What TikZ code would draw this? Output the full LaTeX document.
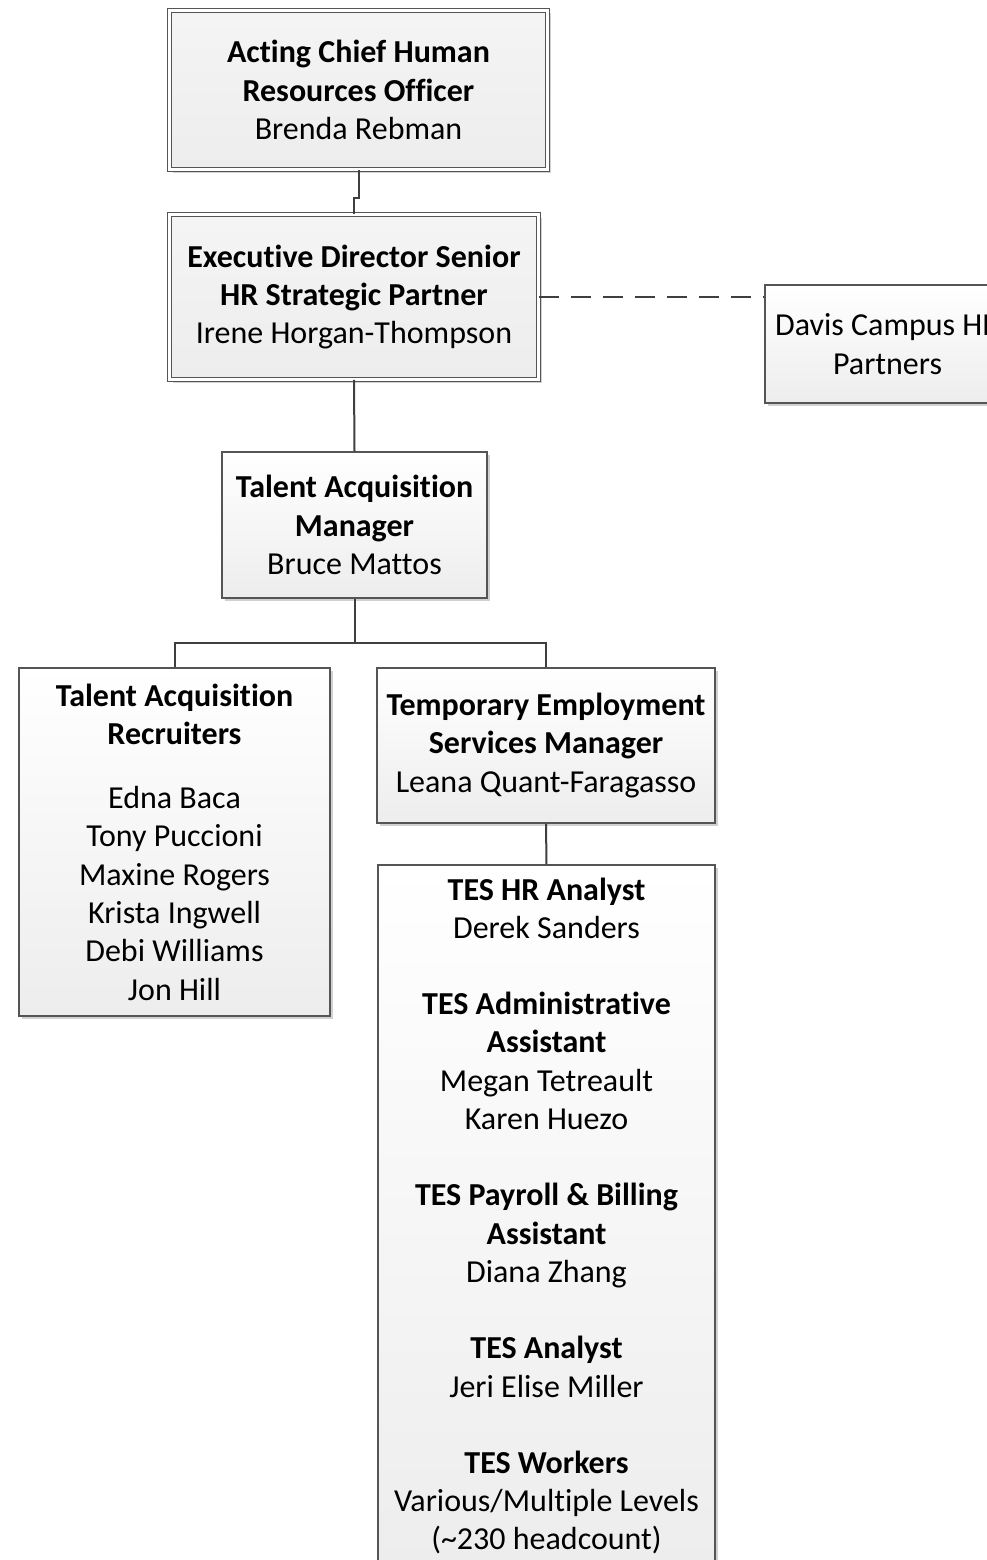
\documentclass[tikz,border=0pt]{standalone}
\usepackage{fontspec}
\setmainfont{Carlito}[Ligatures=NoCommon]
\usetikzlibrary{shadows}
\definecolor{edge}{HTML}{555555}
\definecolor{conn}{HTML}{3F3F3F}
\definecolor{boxbot}{HTML}{EDEDED}
\tikzset{
  orgbox/.style={draw=edge, line width=1.2pt, inner sep=0pt, align=center,
    top color=white, bottom color=boxbot,
    font=\fontsize{32}{38.3}\selectfont,
    drop shadow={shadow xshift=3pt, shadow yshift=-3pt, fill=black!18, opacity=1}},
  dblbox/.style={orgbox, double=white, double distance=3.5pt, line width=0.9pt,
    top color=boxbot!60, bottom color=boxbot},
  link/.style={draw=conn, line width=2pt},
  dashlink/.style={draw=conn, line width=2pt, dash pattern=on 20pt off 12pt}
}
\begin{document}
\begin{tikzpicture}[x=1pt,y=-1pt]
\useasboundingbox (0,0) rectangle (987,1560);
\clip (0,0) rectangle (987,1560);
\fill[white] (0,0) rectangle (987,1560);

\node[dblbox, minimum width=378pt, minimum height=159pt] (b1) at (358.5,90)
  {\textbf{Acting Chief Human}\\\textbf{Resources Officer}\\Brenda Rebman};
\node[dblbox, minimum width=369pt, minimum height=165pt] (b2) at (354,297)
  {\textbf{Executive Director Senior}\\\textbf{HR Strategic Partner}\\Irene Horgan-Thompson};
\node[orgbox, minimum width=245pt, minimum height=118pt] (dv) at (887.5,344)
  {Davis Campus HR\\Partners};
\node[orgbox, minimum width=265pt, minimum height=146pt] (b3) at (354.5,525)
  {\textbf{Talent Acquisition}\\\textbf{Manager}\\Bruce Mattos};
\node[orgbox, minimum width=311pt, minimum height=348pt] (b4) at (174.5,842)
  {\textbf{Talent Acquisition}\\\textbf{Recruiters}\\[26pt]Edna Baca\\Tony Puccioni\\Maxine Rogers\\Krista Ingwell\\Debi Williams\\Jon Hill};
\node[orgbox, minimum width=338pt, minimum height=155pt] (b5) at (546,745.5)
  {\textbf{Temporary Employment}\\\textbf{Services Manager}\\Leana Quant-Faragasso};
\node[orgbox, minimum width=337pt, minimum height=702pt] (b6) at (546.5,1216)
  {\textbf{TES HR Analyst}\\Derek Sanders\\[38pt]
   \textbf{TES Administrative}\\\textbf{Assistant}\\Megan Tetreault\\Karen Huezo\\[38pt]
   \textbf{TES Payroll \& Billing}\\\textbf{Assistant}\\Diana Zhang\\[38pt]
   \textbf{TES Analyst}\\Jeri Elise Miller\\[38pt]
   \textbf{TES Workers}\\Various/Multiple Levels\\(\char`~230 headcount)};

\draw[link] (b1.south) -- ++(0,28) -| (b2.north);
\draw[dashlink] (b2.east) -- (b2.east -| dv.west);
\draw[link] (b2.south) -- (b3.north);
\coordinate (split) at (354.5,643);
\draw[link] (b3.south) -- (split);
\draw[link] (split) -| (b4.north);
\draw[link] (split) -| (b5.north);
\draw[link] (b5.south) -- (b6.north);
\end{tikzpicture}
\end{document}
